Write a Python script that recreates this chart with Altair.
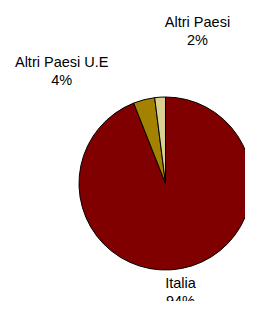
import altair as alt
import pandas as pd

categories = ["Italia", "Altri Paesi U.E", "Altri Paesi"]
values = [94, 4, 2]
colors = ["#800000", "#A38200", "#D8D191"]

df = pd.DataFrame({
    "cat": categories,
    "val": values,
    "idx": list(range(len(categories))),
})
df["label"] = df["cat"] + "\n" + df["val"].astype(str) + "%"

base = alt.Chart(df)

pie = base.mark_arc(radius=86.5, stroke="black", strokeWidth=1).encode(
    theta=alt.Theta("val:Q", stack=True),
    order=alt.Order("idx:Q"),
    color=alt.Color("cat:N", scale=alt.Scale(domain=categories, range=colors), legend=None),
    x=alt.value(157.5),
    y=alt.value(175.5),
)

label_pos = {
    "Italia": (172.5, 280.3),
    "Altri Paesi U.E": (53.7, 58.7),
    "Altri Paesi": (189.5, 19.3),
}

layers = [pie]
for c in categories:
    px, py = label_pos[c]
    layers.append(
        base.transform_filter(alt.datum.cat == c).mark_text(
            font="Liberation Sans", fontSize=14.5, color="black",
            align="center", baseline="alphabetic", lineBreak="\n", lineHeight=18,
        ).encode(text="label:N", x=alt.value(px), y=alt.value(py))
    )

chart = alt.layer(*layers).properties(
    width=237, height=293, autosize=alt.AutoSizeParams(type="none"), padding=0
).configure_view(stroke=None)

chart.save("out.html", embed_options={"renderer": "svg", "actions": False})
